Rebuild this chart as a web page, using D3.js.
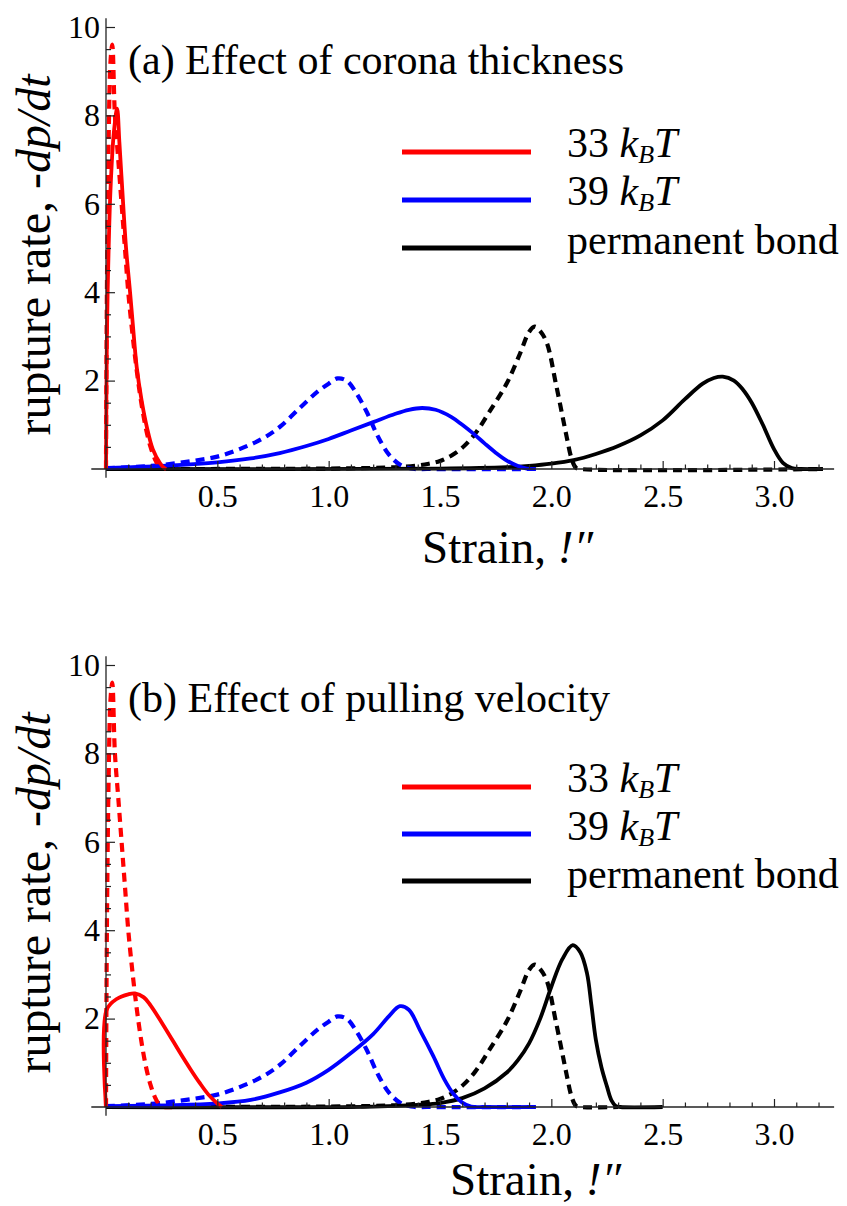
<!DOCTYPE html>
<html><head><meta charset="utf-8">
<script src="https://cdn.jsdelivr.net/npm/d3@7"></script>
<style>
body{margin:0;background:#fff}
svg{display:block}
text{font-family:"Liberation Serif","Times New Roman",serif;fill:#000}
</style>
</head><body>
<svg id="c" width="847" height="1206"></svg>
<script>
// ---------- data ----------
const xTickValues = [0.5, 1.0, 1.5, 2.0, 2.5, 3.0];
const yTickValues = [2, 4, 6, 8, 10];
const panelTitles = ["(a) Effect of corona thickness", "(b) Effect of pulling velocity"];
const legendNames = ["33", "39", "permanent bond"];
const legendColors = ["#ff0000", "#0000ff", "#000000"];

// red dashed (same in both panels)
const redDashedA = [[0,0],[0.004,4.0],[0.012,7.5],[0.02,9.2],[0.028,9.6],[0.04,8.0],[0.055,7.0],[0.07,6.0],[0.085,5.0],[0.1,4.0],[0.12,3.0],[0.14,2.15],[0.16,1.45],[0.18,0.9],[0.2,0.5],[0.22,0.22],[0.24,0.05],[0.26,0]];
const redDashedB = [[0,0],[0.004,4.0],[0.012,7.5],[0.02,9.2],[0.028,9.6],[0.04,8.0],[0.055,7.0],[0.07,6.0],[0.085,5.0],[0.1,4.0],[0.12,3.0],[0.14,2.15],[0.16,1.45],[0.18,0.9],[0.2,0.5],[0.22,0.22],[0.24,0.05],[0.26,0],[0.3,0]];
// red solid
const redSolidA = [[0,0],[0.004,3.0],[0.01,4.6],[0.02,6.3],[0.035,7.6],[0.05,8.15],[0.06,7.4],[0.077,6.0],[0.09,5.0],[0.108,4.0],[0.12,3.3],[0.138,2.3],[0.16,1.55],[0.183,0.96],[0.21,0.45],[0.243,0.13],[0.26,0.03],[0.27,0]];
const redSolidB = [[0,0],[0.003,2.2],[0.05,2.45],[0.1,2.55],[0.13,2.57],[0.17,2.48],[0.2,2.3],[0.27,1.75],[0.33,1.25],[0.38,0.85],[0.42,0.55],[0.46,0.28],[0.5,0.08],[0.52,0]];
// blue dashed (same in both panels)
const blueDashedA = [[0,0.02],[0.2,0.07],[0.3,0.12],[0.4,0.19],[0.5,0.28],[0.6,0.45],[0.7,0.68],[0.78,0.95],[0.87,1.38],[0.95,1.75],[1.0,1.93],[1.04,2.05],[1.08,2.0],[1.12,1.75],[1.17,1.3],[1.22,0.75],[1.27,0.33],[1.32,0.1],[1.37,0.01],[1.45,0],[1.93,0]];
const blueDashedB = blueDashedA.map(d => d.slice());
// blue solid
const blueSolidA = [[0,0.02],[0.3,0.08],[0.5,0.15],[0.65,0.24],[0.78,0.36],[0.9,0.52],[1.0,0.68],[1.1,0.87],[1.2,1.06],[1.3,1.25],[1.36,1.34],[1.42,1.38],[1.48,1.34],[1.55,1.18],[1.6,1.0],[1.65,0.8],[1.7,0.58],[1.75,0.37],[1.8,0.19],[1.85,0.07],[1.89,0.01],[1.93,0]];
const blueSolidB = [[0,0.02],[0.3,0.04],[0.5,0.08],[0.65,0.16],[0.78,0.33],[0.9,0.55],[1.0,0.84],[1.1,1.22],[1.2,1.65],[1.27,2.05],[1.32,2.28],[1.36,2.2],[1.41,1.74],[1.47,1.15],[1.52,0.62],[1.56,0.3],[1.6,0.1],[1.64,0.01],[1.7,0],[1.93,0]];
// black dashed (permanent bond)
const blackDashedA = [[0,0],[1.0,0.01],[1.3,0.04],[1.4,0.08],[1.45,0.12],[1.5,0.18],[1.55,0.3],[1.6,0.48],[1.658,0.8],[1.72,1.28],[1.8,1.94],[1.86,2.62],[1.9,3.1],[1.925,3.22],[1.95,3.12],[1.98,2.85],[2.02,1.94],[2.05,1.2],[2.07,0.7],[2.09,0.25],[2.11,0.03],[2.13,0],[3.22,0]];
const blackDashedB = [[0,0],[1.0,0.01],[1.3,0.04],[1.4,0.08],[1.45,0.12],[1.5,0.18],[1.55,0.3],[1.6,0.48],[1.658,0.8],[1.72,1.28],[1.8,1.94],[1.86,2.62],[1.9,3.1],[1.925,3.22],[1.95,3.12],[1.98,2.85],[2.02,1.94],[2.05,1.2],[2.07,0.7],[2.09,0.25],[2.11,0.03],[2.13,0],[2.3,0]];
// black solid
const blackSolidA = [[0,0],[1.5,0.01],[1.8,0.04],[1.9,0.07],[2.0,0.12],[2.1,0.2],[2.2,0.34],[2.3,0.52],[2.4,0.76],[2.5,1.1],[2.6,1.58],[2.68,1.93],[2.73,2.06],[2.77,2.09],[2.82,2.0],[2.86,1.8],[2.9,1.5],[2.95,1.0],[3.0,0.45],[3.04,0.14],[3.08,0.02],[3.12,0],[3.22,0]];
const blackSolidB = [[0,0],[1.2,0.01],[1.4,0.05],[1.5,0.09],[1.6,0.2],[1.7,0.42],[1.8,0.78],[1.85,1.06],[1.9,1.44],[1.95,2.0],[2.0,2.72],[2.05,3.35],[2.096,3.66],[2.13,3.5],[2.16,3.03],[2.18,2.3],[2.2,1.52],[2.225,0.9],[2.25,0.46],[2.27,0.15],[2.29,0.02],[2.31,0],[2.5,0]];

// ---------- layout ----------
const panels = [
  {y0:469, y10:27, title:panelTitles[0], titleY:74, legendY:[152,200,248], legendTextY:[157,205,254], xlabX:422, xlabY:563,
   series:[
     {d:blackDashedA,c:"#000",dash:true},{d:blueDashedA,c:"#0000ff",dash:true},{d:redDashedA,c:"#ff0000",dash:true},
     {d:blackSolidA,c:"#000",dash:false},{d:blueSolidA,c:"#0000ff",dash:false},{d:redSolidA,c:"#ff0000",dash:false}]},
  {y0:1107, y10:665, title:panelTitles[1], titleY:712, legendY:[787,834,881], legendTextY:[792,840,888], xlabX:450, xlabY:1195,
   series:[
     {d:blackDashedB,c:"#000",dash:true},{d:blueDashedB,c:"#0000ff",dash:true},{d:redDashedB,c:"#ff0000",dash:true},
     {d:blackSolidB,c:"#000",dash:false},{d:blueSolidB,c:"#0000ff",dash:false},{d:redSolidB,c:"#ff0000",dash:false}]}
];

const svg = d3.select("#c");
const x = d3.scaleLinear().domain([0,3]).range([106,774]);
const minorX = d3.range(1,33).map(i=>i/10).filter(v=>Math.abs(v*2-Math.round(v*2))>1e-6);
const minorY = d3.range(1,21).map(i=>i/2).filter(v=>v%2!==0);

panels.forEach((p, pi) => {
  const y = d3.scaleLinear().domain([0,10]).range([p.y0, p.y10]);
  const g = svg.append("g");

  // curves
  const line = d3.line().x(d=>x(d[0])).y(d=>y(Math.max(0,d[1]))).curve(d3.curveCatmullRom.alpha(0.5));
  g.selectAll("path.curve").data(p.series).join("path")
    .attr("class","curve")
    .attr("d", s=>line(s.d))
    .attr("fill","none")
    .attr("stroke", s=>s.c)
    .attr("stroke-width", s=>s.dash ? 4.2 : 3.8)
    .attr("stroke-linejoin","round")
    .attr("stroke-dasharray", s=>s.dash ? "9,6" : null);

  // axes lines
  g.append("line").attr("x1",x(-0.066)).attr("x2",x(3.27)).attr("y1",y(0)).attr("y2",y(0))
    .attr("stroke","#222").attr("stroke-width",1.3);
  g.append("line").attr("x1",x(0)).attr("x2",x(0)).attr("y1",y(-0.2)).attr("y2",y(10.2))
    .attr("stroke","#222").attr("stroke-width",1.3);

  // x axis ticks
  const xa = g.append("g").attr("transform",`translate(0,${y(0)})`)
    .call(d3.axisBottom(x).tickValues(xTickValues).tickFormat(d3.format(".1f")).tickSizeInner(-8).tickSizeOuter(0).tickPadding(15));
  const xm = g.append("g").attr("transform",`translate(0,${y(0)})`)
    .call(d3.axisBottom(x).tickValues(minorX).tickFormat("").tickSizeInner(-4.5).tickSizeOuter(0));
  // y axis ticks
  const ya = g.append("g").attr("transform",`translate(${x(0)},0)`)
    .call(d3.axisLeft(y).tickValues(yTickValues).tickFormat(d3.format("d")).tickSizeInner(-9).tickSizeOuter(0).tickPadding(6));
  const ym = g.append("g").attr("transform",`translate(${x(0)},0)`)
    .call(d3.axisLeft(y).tickValues(minorY).tickFormat("").tickSizeInner(-5).tickSizeOuter(0));
  [xa,xm,ya,ym].forEach(a=>{
    a.select(".domain").remove();
    a.selectAll(".tick line").attr("stroke","#222").attr("stroke-width",1.2);
    a.selectAll(".tick text").attr("font-family","'Liberation Serif',serif").attr("font-size",32).attr("fill","#111");
  });

  // title
  g.append("text").attr("x",128).attr("y",p.titleY).attr("font-size",42).text(p.title);

  // legend
  const lg = g.selectAll("g.leg").data(legendNames).join("g").attr("class","leg");
  lg.append("line").attr("x1",402).attr("x2",531)
    .attr("y1",(d,i)=>p.legendY[i]).attr("y2",(d,i)=>p.legendY[i])
    .attr("stroke",(d,i)=>legendColors[i]).attr("stroke-width",5);
  lg.each(function(d,i){
    const t = d3.select(this).append("text").attr("x",567).attr("y",p.legendTextY[i]).attr("font-size",42);
    if (i<2) {
      t.append("tspan").text(d+" ");
      t.append("tspan").attr("font-style","italic").text("k");
      t.append("tspan").attr("font-style","italic").attr("font-size",26).attr("dy",6).text("B");
      t.append("tspan").attr("font-style","italic").attr("dy",-6).text("T");
    } else {
      t.text(d);
    }
  });

  // x label
  const xl = g.append("text").attr("x",p.xlabX).attr("y",p.xlabY).attr("font-size",47);
  xl.append("tspan").text("Strain, ");
  xl.append("tspan").attr("font-style","italic").text("!″");

  // y label
  const yc = (p.y0 + p.y10)/2 + 7;
  const yl = g.append("text").attr("transform",`translate(50,${yc}) rotate(-90)`)
    .attr("text-anchor","middle").attr("font-size",48);
  yl.append("tspan").text("rupture rate, ");
  yl.append("tspan").attr("font-style","italic").text("-dp/dt");
});
</script>
</body></html>
